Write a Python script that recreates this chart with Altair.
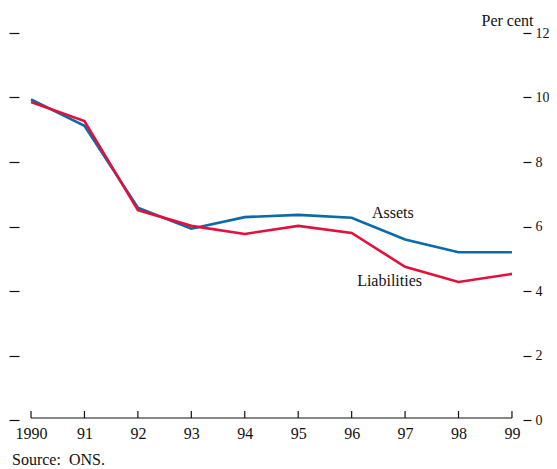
import altair as alt
import pandas as pd

years = [1990, 1991, 1992, 1993, 1994, 1995, 1996, 1997, 1998, 1999]
assets = [9.94, 9.12, 6.58, 5.93, 6.29, 6.36, 6.27, 5.60, 5.20, 5.20]
liabilities = [9.86, 9.27, 6.51, 6.02, 5.77, 6.02, 5.80, 4.75, 4.28, 4.53]
series_names = ["Assets", "Liabilities"]
series_colors = ["#0b6aa8", "#e2103c"]
y_ticks = [0, 2, 4, 6, 8, 10, 12]

label_text = ["Assets", "Liabilities"]
label_x = [1996.77, 1996.71]
label_y = [6.42, 4.31]

rows = []
for i, yr in enumerate(years):
    rows.append({"year": yr, "series": "Assets", "value": assets[i]})
    rows.append({"year": yr, "series": "Liabilities", "value": liabilities[i]})
df = pd.DataFrame(rows)
years_df = pd.DataFrame({"year": years})
base_df = pd.DataFrame({"start": [years[0]], "end": [years[-1]]})
labels_df = pd.DataFrame({"text": label_text, "x": label_x, "y": label_y})
ticks_df = pd.DataFrame({"v": y_ticks})

W, H = 504, 387
FONT = "Liberation Serif"
FS = 16

xscale = alt.Scale(domain=[1989.7754, 1999.2066], nice=False, zero=False)
yscale = alt.Scale(domain=[0, 12], nice=False)

xaxis = alt.Axis(title=None, values=years, domain=False, ticks=False, grid=False,
                 labelExpr="datum.value == 1990 ? '1990' : substring(toString(datum.value), 2, 4)",
                 labelFont=FONT, labelFontSize=FS, labelColor="#111",
                 labelPadding=5, labelBaseline="top", labelFlush=False)

lines = alt.Chart(df).mark_line(strokeWidth=2.6).encode(
    x=alt.X("year:Q", scale=xscale, axis=xaxis),
    y=alt.Y("value:Q", scale=yscale,
            axis=alt.Axis(orient="right", values=y_ticks, title="Per cent", titleAngle=0,
                          titleAlign="right", titleBaseline="bottom", titleX=10, titleY=-5,
                          titleFont=FONT, titleFontSize=FS, titleFontWeight="normal", titleColor="#111",
                          domain=False, grid=False, tickSize=8, tickColor="#111", tickWidth=1.2,
                          labelFont=FONT, labelFontSize=14, labelColor="#111", labelPadding=4)),
    color=alt.Color("series:N", scale=alt.Scale(domain=series_names, range=series_colors), legend=None),
)

left_axis = alt.Chart(ticks_df).mark_point(opacity=0).encode(
    y=alt.Y("v:Q", scale=yscale,
            axis=alt.Axis(orient="left", values=y_ticks, title=None, labels=False, domain=False,
                          grid=False, tickSize=10, tickColor="#111", tickWidth=1.2)),
)

baseline = alt.Chart(base_df).mark_rule(color="#111", strokeWidth=1.2).encode(
    x=alt.X("start:Q", scale=xscale, axis=xaxis), x2="end:Q", y=alt.value(H - 2)
)

ticks = alt.Chart(years_df).mark_rule(color="#111", strokeWidth=1.2).encode(
    x=alt.X("year:Q", scale=xscale, axis=xaxis), y=alt.value(H - 2), y2=alt.value(H - 9)
)

labels = alt.Chart(labels_df).mark_text(font=FONT, fontSize=FS, color="#111", align="center", baseline="middle").encode(
    x=alt.X("x:Q", scale=xscale, axis=xaxis), y=alt.Y("y:Q", scale=yscale, axis=None), text="text:N"
)

source = alt.Chart(pd.DataFrame({"t": ["Source:\u00a0 ONS."]})).mark_text(
    font=FONT, fontSize=FS, color="#111", align="left", baseline="middle"
).encode(x=alt.value(-7), y=alt.value(427), text="t:N")

chart = alt.layer(lines, labels, baseline, ticks, source, left_axis).resolve_scale(y="independent").properties(
    width=W, height=H,
    autosize=alt.AutoSizeParams(type="none"),
    padding={"left": 11, "top": 25, "right": 26, "bottom": 49},
).configure(background="white").configure_view(stroke=None)

chart.save("out.html", embed_options={"renderer": "svg", "actions": False})
